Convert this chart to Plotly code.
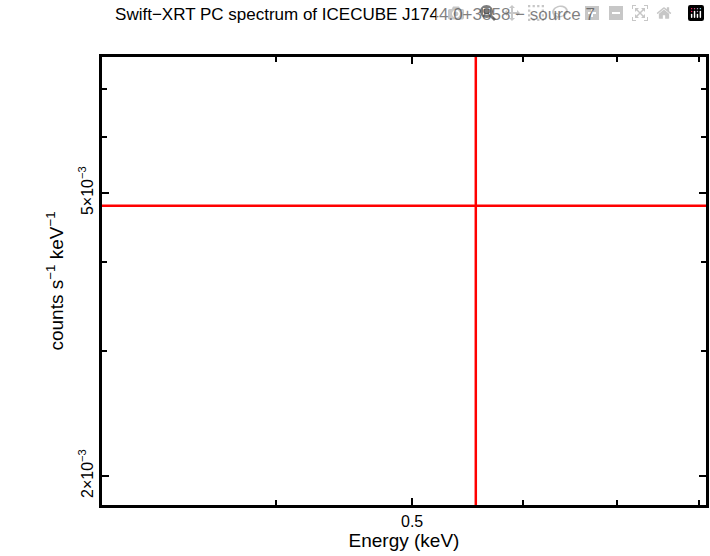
import plotly.graph_objects as go

energy = [0.555]
rate = [4.80e-3]
energy_lo = [0.30]
energy_hi = [0.95]
rate_lo = [1.0e-3]
rate_hi = [1.5e-2]

x_major = [0.5]
x_minor = [0.4, 0.6, 0.7, 0.8]
y_major = [2e-3, 5e-3]
y_major_text = ["2×10<sup>−3</sup>", "5×10<sup>−3</sup>"]
y_minor = [3e-3, 4e-3, 6e-3, 7e-3]

fig = go.Figure()
fig.add_trace(go.Scatter(
    x=energy, y=rate, mode="markers", marker=dict(size=1, color="red"),
    error_x=dict(type="data", symmetric=False,
                 array=[h - e for h, e in zip(energy_hi, energy)],
                 arrayminus=[e - l for l, e in zip(energy_lo, energy)],
                 color="red", thickness=2.5, width=0),
    error_y=dict(type="data", symmetric=False,
                 array=[h - r for h, r in zip(rate_hi, rate)],
                 arrayminus=[r - l for l, r in zip(rate_lo, rate)],
                 color="red", thickness=2.5, width=0),
    showlegend=False,
))

axis_common = dict(type="log", showgrid=False, zeroline=False, showline=True,
                   linecolor="black", linewidth=3, mirror="allticks",
                   ticks="inside", ticklen=7, tickwidth=2, tickcolor="black")

fig.update_xaxes(**axis_common, range=[-0.5217, -0.0919],
                 tickvals=x_major, ticktext=["0.5"],
                 minor=dict(tickvals=x_minor, ticks="inside", ticklen=5, tickwidth=2, tickcolor="black"),
                 title=dict(text="Energy (keV)", standoff=2))
fig.update_yaxes(**axis_common, range=[-2.7398, -2.1097],
                 tickvals=y_major, ticktext=y_major_text, tickangle=-90,
                 minor=dict(tickvals=y_minor, ticks="inside", ticklen=5, tickwidth=2, tickcolor="black"),
                 title=dict(text="counts s<sup>−1</sup> keV<sup>−1</sup>", standoff=8))

fig.update_layout(
    width=710, height=556,
    margin=dict(l=102, r=1, t=57, b=51),
    plot_bgcolor="white", paper_bgcolor="white",
    font=dict(family="Liberation Sans, Arial, sans-serif", size=16, color="black"),
    title=dict(text="Swift−XRT PC spectrum of ICECUBE J1744.0+3858 − source 7",
               x=0.5, xanchor="center", y=0.985, yanchor="top",
               font=dict(size=17)),
)

# remove the page margin so the figure sits at the window's corner
fig.write_html("out.html",
               post_script="document.body.style.margin='0';document.body.style.overflow='hidden';")
